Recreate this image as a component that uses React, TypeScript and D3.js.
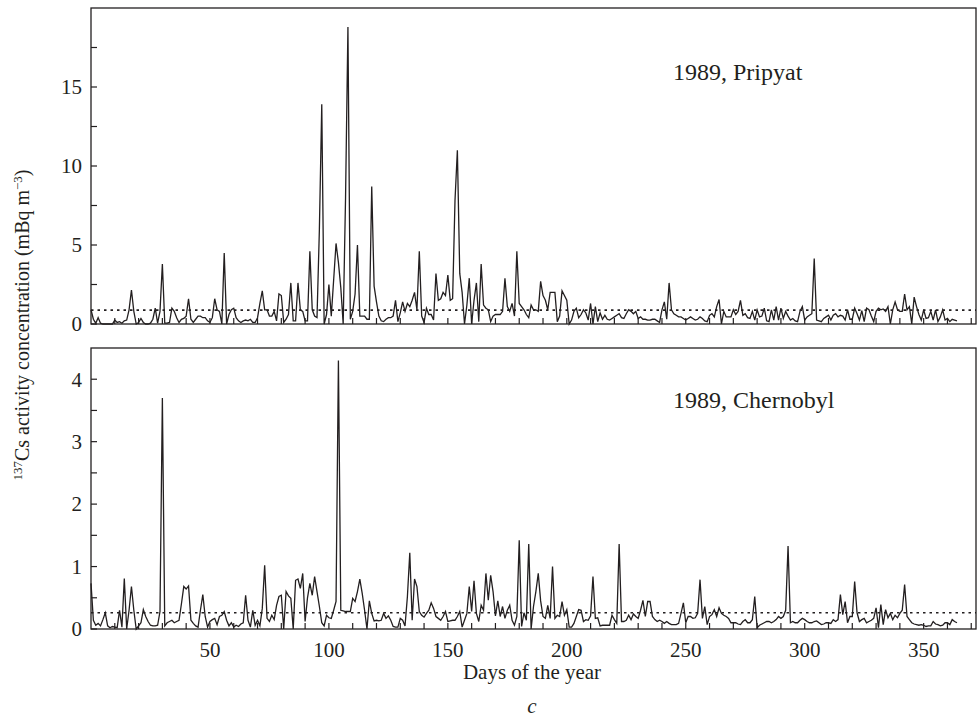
import React from "react";
import * as d3 from "d3";

const pripyat = [
  0.9, 0.3, 0.05, 0.4, 0.05, 0, 0, 0, 0, 0,
  0.25, 0.1, 0.15, 0.05, 0.2, 0.25, 0.9, 2.15, 0.8, 0,
  0.1, 0.35, 0.1, 0, 0, 0.05, 0.3, 1.0, 0.05, 0.8,
  3.8, 0.05, 0.05, 0.1, 1.0, 0.8, 0.4, 0.1, 0.3, 0.35,
  0.5, 1.6, 0.3, 0.1, 0.3, 0.5, 0.5, 0.4, 0.4, 0.2,
  0.1, 0.4, 1.6, 0.9, 0.8, 0, 4.5, 0, 0.6, 0.9,
  1.0, 0.4, 0.2, 0.1, 0.2, 0.25, 0.2, 0.3, 0.1, 0.1,
  0.4, 1.3, 2.1, 0.9, 0.9, 0.5, 0.5, 0.8, 0.2, 1.9,
  1.8, 0.1, 0.3, 0.6, 2.6, 0.2, 0.2, 2.6, 0.9, 0.8,
  0.2, 0.2, 4.6, 0.9, 0.5, 0.4, 6.0, 13.9, 0, 0.6,
  2.5, 0.5, 2.8, 5.1, 3.9, 2.3, 0, 8.0, 18.8, 0.3,
  0.8, 1.9, 5.0, 0.5, 0.5, 0.5, 0.3, 0.3, 8.7, 2.4,
  1.4, 0.5, 0.2, 0.15, 0.3, 0.4, 0.4, 0.5, 1.5, 0.15,
  0.7, 1.4, 0.8, 1.3, 1.1, 1.5, 2.0, 0.9, 4.6, 0.5,
  0.1, 1.0, 0.6, 0.6, 0.25, 3.2, 1.5, 1.6, 2.0, 1.8,
  3.1, 1.5, 1.6, 7.8, 11.0, 3.2, 2.0, 0, 1.2, 2.9,
  0, 1.5, 2.6, 0.15, 3.8, 1.2, 1.0, 0.9, 0.15, 0.5,
  0.6, 0.6, 0.6, 0.8, 2.9, 1.1, 0.8, 1.3, 0.5, 4.6,
  1.3, 1.1, 0.9, 0.6, 0.4, 1.2, 0.9, 0.9, 0.8, 2.7,
  1.8, 1.5, 0.9, 2.0, 2.0, 2.0, 0.15, 0.5, 2.1, 1.8,
  1.5, 0, 0.25, 0.8, 1.0, 0.4, 0.6, 0.9, 0.7, 0.25,
  1.3, 0, 1.1, 0.15, 0.7, 0.3, 0.55, 0.3, 0.25, 0.35,
  0.45, 0.55, 0.65, 0.4, 0.35, 0.65, 0.9, 0.8, 0.65, 0.8,
  0.35, 0.45, 0.3, 0.3, 0.25, 0.25, 0.3, 0.3, 0.2, 0.1,
  0.9, 1.4, 0.3, 2.6, 0.9, 0.65, 0.55, 0.45, 0.45, 0.35,
  0.25, 0.35, 0.45, 0.35, 0.25, 0.3, 0.45, 0.35, 0.2, 0.15,
  0.55, 0.65, 0.45, 1.1, 1.55, 0, 0.8, 0.45, 0.45, 0.45,
  0.9, 0.6, 0.8, 1.5, 0.55, 0.65, 0.4, 0.35, 0.8, 0.25,
  0.9, 0.45, 0.5, 1.0, 0.2, 0.15, 0.9, 0.25, 1.1, 0.25,
  1.0, 0.35, 0.8, 0.5, 0.25, 0.35, 0.2, 0.15, 0.8, 1.1,
  0.25, 0.45, 0.55, 0.65, 4.15, 0.25, 0.2, 0.15, 0.35, 0.45,
  0.55, 0.25, 0.55, 0.65, 0.45, 0.55, 0.5, 0.25, 0.9, 0.3,
  0.3, 1.0, 0.65, 0.25, 0.85, 0.15, 1.0, 0.9, 0.5, 0.15,
  0.8, 1.0, 0.9, 0.95, 0.8, 1.1, 0, 0.9, 1.4, 0.9,
  0.8, 0.8, 1.9, 0.9, 1.1, 0, 1.7, 1.1, 0.6, 0.25,
  0.9, 0.35, 0.4, 0.8, 0.25, 0.9, 0.15, 0.45, 0.9, 0.25,
  0.35, 0.15, 0.3, 0.25, 0.2,
];

const chernobyl = [
  0.73, 0.14, 0.06, 0.09, 0.05, 0.15, 0.26, 0.05, 0.02, 0.04,
  0.03, 0.02, 0.3, 0.03, 0.81, 0, 0.3, 0.68, 0.3, 0,
  0.05, 0.1, 0.31, 0.2, 0.12, 0.06, 0.05, 0.05, 0.06, 0.28,
  3.7, 0.05, 0.1, 0.12, 0.14, 0.1, 0.12, 0.14, 0.4, 0.68,
  0.64, 0.69, 0.14, 0.09, 0.05, 0.03, 0.3, 0.55, 0.2, 0.03,
  0.12, 0.15, 0.17, 0.07, 0.2, 0.22, 0.28, 0.14, 0.05, 0.1,
  0.03, 0.06, 0.04, 0.08, 0.1, 0.54, 0.14, 0.03, 0.3, 0.06,
  0.14, 0.05, 0.33, 1.02, 0.17, 0.12, 0.22, 0.15, 0.38, 0.52,
  0.54, 0, 0.6, 0.53, 0.49, 0, 0.78, 0.8, 0.65, 0.89,
  0.12, 0.5, 0.73, 0.54, 0.84, 0.6, 0.36, 0.1, 0.05, 0.22,
  0.18, 0.17, 0.3, 0.44, 4.3, 0.3, 0.29, 0.28, 0.28, 0.28,
  0.49, 0.44, 0.6, 0.8, 0.57, 0.3, 0, 0.45, 0.25, 0.13,
  0.14, 0.13, 0.14, 0.25, 0.17, 0.21, 0.14, 0.04, 0.03, 0.03,
  0.17, 0.14, 0.05, 0.52, 1.22, 0.14, 0.8, 0.68, 0.28, 0.22,
  0.19, 0.25, 0.3, 0.42, 0.33, 0.2, 0.17, 0.14, 0.2, 0.28,
  0.12, 0.13, 0.14, 0.14, 0.2, 0.28, 0.03, 0.14, 0.25, 0.68,
  0.28, 0.77, 0.25, 0.12, 0.38, 0.3, 0.89, 0.46, 0.86, 0.6,
  0.21, 0.45, 0.2, 0.36, 0.17, 0.3, 0.38, 0.14, 0.06, 0.2,
  1.42, 0.04, 0.26, 0.14, 1.36, 0, 0.36, 0.6, 0.89, 0.45,
  0.2, 0.17, 0.38, 0.17, 1.0, 0.17, 0.22, 0.2, 0.44, 0.22,
  0.31, 0.03, 0.03, 0.09, 0.2, 0.31, 0.3, 0.12, 0.15, 0.14,
  0.21, 0.84, 0.17, 0.18, 0.05, 0.06, 0.06, 0.06, 0.06, 0.22,
  0.15, 0.09, 1.36, 0.12, 0.12, 0.14, 0.22, 0.15, 0.24, 0.2,
  0.17, 0.3, 0.46, 0.2, 0.44, 0.44, 0.2, 0.15, 0.12, 0.14,
  0.12, 0.09, 0.12, 0.09, 0.07, 0.07, 0.07, 0.09, 0.25, 0.42,
  0.1, 0.2, 0.2, 0.17, 0.18, 0.25, 0.79, 0.17, 0.36, 0.07,
  0.2, 0.23, 0.31, 0.2, 0.34, 0.25, 0.22, 0.2, 0.17, 0.1,
  0.1, 0.1, 0.08, 0.07, 0.12, 0.15, 0.1, 0.1, 0.15, 0.52,
  0.02, 0.06, 0.08, 0.1, 0.12, 0.12, 0.1, 0.12, 0.15, 0.2,
  0.17, 0.2, 0.3, 1.33, 0.1, 0.12, 0.1, 0.1, 0.14, 0.17,
  0.15, 0.12, 0.1, 0.1, 0.12, 0.13, 0.1, 0.07, 0.08, 0.1,
  0.1, 0.09, 0.15, 0.12, 0.15, 0.55, 0.23, 0.44, 0.1, 0.2,
  0.2, 0.76, 0.26, 0.12, 0.15, 0.17, 0.1, 0.12, 0.14, 0.17,
  0.34, 0.02, 0.39, 0.07, 0.31, 0.18, 0.25, 0.15, 0.22, 0.18,
  0.25, 0.3, 0.71, 0.2, 0.15, 0.1, 0.08, 0.07, 0.06, 0.07,
  0.06, 0.04, 0.05, 0.05, 0.12, 0.08, 0.07, 0.05, 0.06, 0.1,
  0.1, 0.07, 0.15, 0.12, 0.1,
];

const pripyatTickLabels = [0, 5, 10, 15];
const chernobylTickLabels = [0, 1, 2, 3, 4];
const dayTickLabels = [50, 100, 150, 200, 250, 300, 350];
const pripyatThreshold = 0.88;
const chernobylThreshold = 0.26;
const titles = ["1989, Pripyat", "1989, Chernobyl"];

const W = 979;
const H = 727;
const LEFT = 91;
const RIGHT = 976;
const FONT = "'Liberation Serif', 'Times New Roman', serif";
const INK = "#231f20";

export default function App() {
  const x = d3.scaleLinear().domain([0, 372]).range([LEFT, RIGHT]);

  const panels = [
    {
      data: pripyat,
      yMax: 20,
      top: 8,
      bottom: 324,
      labels: pripyatTickLabels,
      minor: d3.range(0, 20, 2.5),
      threshold: pripyatThreshold,
      title: titles[0],
      titleY: 80,
    },
    {
      data: chernobyl,
      yMax: 4.5,
      top: 348,
      bottom: 629,
      labels: chernobylTickLabels,
      minor: d3.range(0, 4.5, 0.5),
      threshold: chernobylThreshold,
      title: titles[1],
      titleY: 408,
    },
  ];

  const xTicks = d3.range(10, 371, 10);

  return (
    <svg
      width={W}
      height={H}
      style={{ position: "absolute", left: 0, top: 0, background: "#fff" }}
      fontFamily={FONT}
    >
      {panels.map((p, pi) => {
        const y = d3.scaleLinear().domain([0, p.yMax]).range([p.bottom, p.top]);
        const line = d3
          .line<number>()
          .x((_, i) => x(i))
          .y((d) => y(d));
        return (
          <g key={pi}>
            <line
              x1={LEFT}
              x2={RIGHT}
              y1={y(p.threshold)}
              y2={y(p.threshold)}
              stroke={INK}
              strokeWidth={1.6}
              strokeDasharray="2.5,4"
            />
            <path d={line(p.data) || ""} fill="none" stroke={INK} strokeWidth={1.3} strokeLinejoin="miter" />
            <rect
              x={LEFT}
              y={p.top}
              width={RIGHT - LEFT}
              height={p.bottom - p.top}
              fill="none"
              stroke={INK}
              strokeWidth={1.3}
            />
            {p.minor.map((t) => (
              <line key={"yt" + t} x1={LEFT} x2={LEFT + 6} y1={y(t)} y2={y(t)} stroke={INK} strokeWidth={1.2} />
            ))}
            {xTicks.map((t) => (
              <line key={"xt" + t} x1={x(t)} x2={x(t)} y1={p.bottom} y2={p.bottom - 6} stroke={INK} strokeWidth={1.2} />
            ))}
            {p.labels.map((t) => (
              <text
                key={"yl" + t}
                x={LEFT - 9}
                y={y(t)}
                dy="0.35em"
                textAnchor="end"
                fontSize={21}
                fill={INK}
              >
                {t}
              </text>
            ))}
            <text x={673} y={p.titleY} fontSize={24} fill={INK}>
              {p.title}
            </text>
          </g>
        );
      })}
      {dayTickLabels.map((t) => (
        <text key={"xl" + t} x={x(t)} y={657} textAnchor="middle" fontSize={21} fill={INK}>
          {t}
        </text>
      ))}
      <text x={532} y={679} textAnchor="middle" fontSize={21} fill={INK}>
        Days of the year
      </text>
      <text x={532} y={713} textAnchor="middle" fontSize={21} fontStyle="italic" fill={INK}>
        c
      </text>
      <text transform="translate(29,325) rotate(-90)" textAnchor="middle" fontSize={20} fill={INK}>
        <tspan fontSize={13} dy="-7">137</tspan>
        <tspan dy="7">Cs activity concentration (mBq m</tspan>
        <tspan fontSize={13} dy="-7">−3</tspan>
        <tspan dy="7">)</tspan>
      </text>
    </svg>
  );
}
